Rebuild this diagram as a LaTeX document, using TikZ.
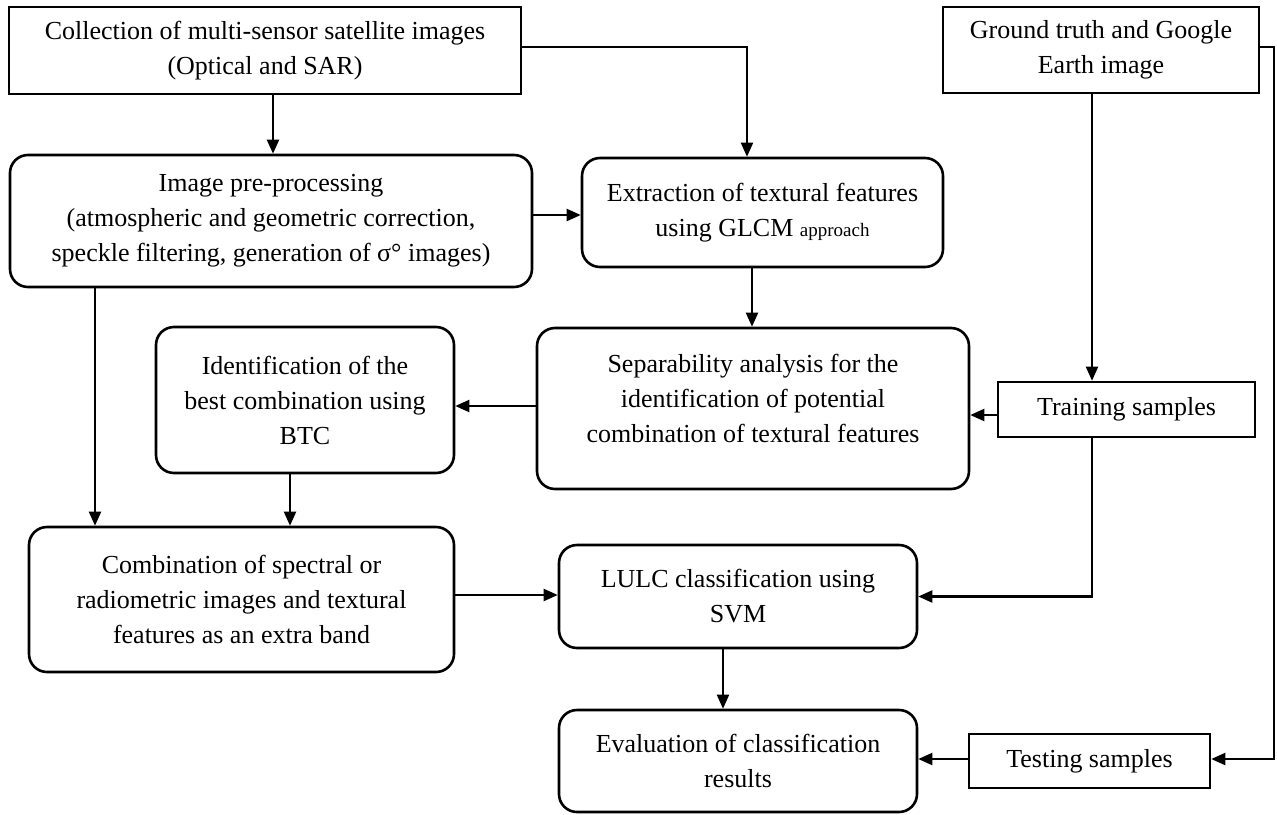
\documentclass[tikz,border=0pt]{standalone}
\usepackage{fontspec}
\setmainfont{Liberation Serif}
\usetikzlibrary{arrows.meta}
\tikzset{
  sq/.style={draw, line width=2.6pt, rectangle, inner sep=0pt, align=center},
  rd/.style={sq, rounded corners=18pt},
  txt/.style={align=center, inner sep=0pt},
  arr/.style={line width=2.1pt, -{Triangle[length=14pt,width=12pt]}},
}
\begin{document}
\begin{tikzpicture}[x=1pt,y=-1pt,font=\fontsize{26}{35}\selectfont]
\useasboundingbox (0,0) rectangle (1277,814);
\node[sq, minimum width=512pt, minimum height=87pt] (col) at (265,50.5)
  {Collection of multi-sensor satellite images\\(Optical and SAR)};
\node[rd, minimum width=522pt, minimum height=132pt] (pre) at (271,221)
  {Image pre-processing\\(atmospheric and geometric correction,\\speckle filtering, generation of σ° images)};
\node[rd, minimum width=361pt, minimum height=109pt] (ext) at (762.5,212.5)
  {Extraction of textural features\\using GLCM {\fontsize{19}{35}\selectfont approach}};
\node[sq, minimum width=316pt, minimum height=86pt] (gt) at (1101,50)
  {Ground truth and Google\\Earth image};
\node[rd, minimum width=298pt, minimum height=146pt] (btc) at (305,400)
  {Identification of the\\best combination using\\BTC};
\node[rd, minimum width=432pt, minimum height=161pt] (sep) at (753,408.5) {};
\node[txt] (sepT) at (753,398)
  {Separability analysis for the\\identification of potential\\combination of textural features};
\node[sq, minimum width=257pt, minimum height=55pt] (train) at (1126.5,409.5)
  {Training samples};
\node[rd, minimum width=425pt, minimum height=145pt] (comb) at (241.5,599.5)
  {Combination of spectral or\\radiometric images and textural\\features as an extra band};
\node[rd, minimum width=358pt, minimum height=103pt] (lulc) at (738,596.5)
  {LULC classification using\\SVM};
\node[rd, minimum width=358pt, minimum height=102pt] (eval) at (738,761)
  {Evaluation of classification\\results};
\node[sq, minimum width=241pt, minimum height=54pt] (test) at (1089.5,761)
  {Testing samples};

\draw[arr] ([xshift=8pt]col.south) -- ([xshift=2pt]pre.north);
\draw[arr] ([yshift=3.5pt]col.east) -| ([xshift=-15.5pt]ext.north);
\draw[arr] ([yshift=6pt]pre.east) -- ([yshift=-2.5pt]ext.west);
\draw[arr] ([xshift=-10.5pt]ext.south) -- ([xshift=-1pt]sep.north);
\draw[arr] ([xshift=-9pt]gt.south) -- ([xshift=-34.5pt]train.north);
\draw[arr] ([xshift=-34.5pt]train.south) |- (lulc.east);
\draw[arr] ([yshift=3pt]gt.east) -- ++(14,0) |- ([yshift=2pt]test.east);
\draw[arr] ([yshift=-5.5pt]train.west) -- ([yshift=-6.5pt]sep.east);
\draw[arr] ([yshift=2.5pt]sep.west) -- ([yshift=-6pt]btc.east);
\draw[arr] ([xshift=-176pt]pre.south) -- ([xshift=-146.5pt]comb.north);
\draw[arr] ([xshift=-15pt]btc.south) -- ([xshift=48.5pt]comb.north);
\draw[arr] ([yshift=4.5pt]comb.east) -- ([yshift=1.5pt]lulc.west);
\draw[arr] ([xshift=-15pt]lulc.south) -- ([xshift=-15pt]eval.north);
\draw[arr] ([yshift=2pt]test.west) -- ([yshift=2pt]eval.east);
\end{tikzpicture}
\end{document}
